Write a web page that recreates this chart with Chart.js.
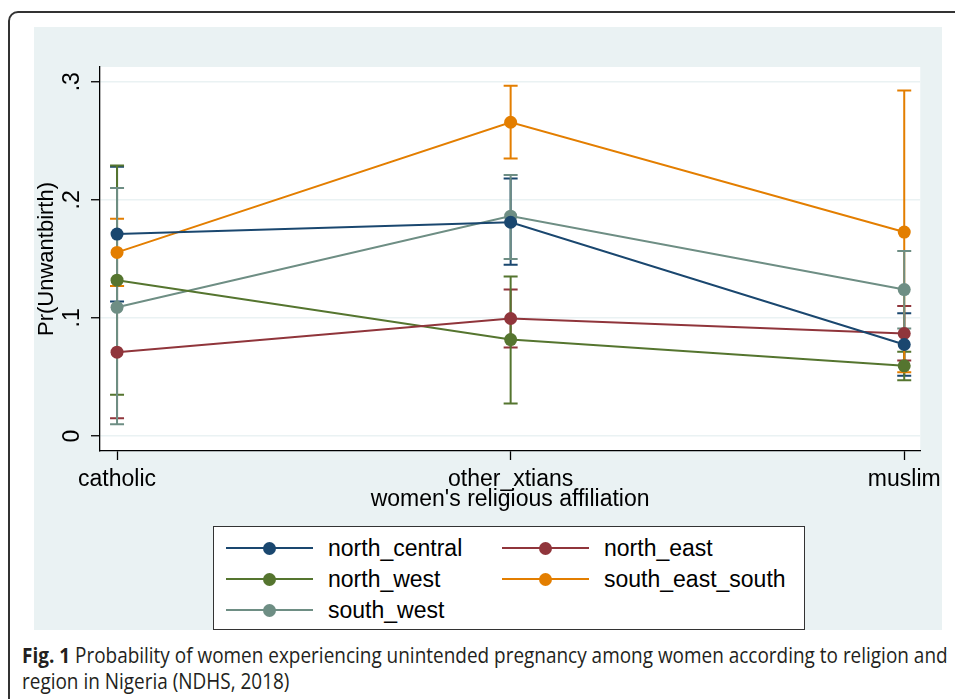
<!DOCTYPE html>
<html>
<head>
<meta charset="utf-8">
<script src="https://cdn.jsdelivr.net/npm/chart.js@4.4.0/dist/chart.umd.min.js"></script>
<style>
body { margin: 0; background: #fff; width: 955px; height: 699px; overflow: hidden; position: relative; font-family: "Liberation Sans", Arial, sans-serif; }
#frame { position: absolute; left: 8px; top: 11px; width: 1000px; height: 800px; border: 2px solid #333; border-radius: 10px; box-sizing: border-box; }
#panel { position: absolute; left: 34px; top: 27px; width: 908px; height: 603px; background: #eaf2f3; }
#chart { position: absolute; left: 34px; top: 27px; }
#legend { position: absolute; left: 213px; top: 526px; width: 592px; height: 104px; box-sizing: border-box; border: 1.5px solid #333; background: #fff; }
.ln { position: absolute; height: 2px; }
.dot { position: absolute; width: 13px; height: 13px; border-radius: 50%; }
.lab { position: absolute; font-size: 23px; line-height: 26px; color: #000; white-space: nowrap; }
#caption { position: absolute; left: 22px; top: 642px; font-family: "Open Sans", sans-serif; font-size: 21px; line-height: 26px; color: #231f20; white-space: nowrap; transform-origin: 0 0; }
</style>
</head>
<body>
<div id="frame"></div>
<div id="panel"></div>
<canvas id="chart" width="913" height="603"></canvas>
<div id="legend"></div>
<div id="caption"><b>Fig. 1</b> Probability of women experiencing unintended pregnancy among women according to religion and<br>region in Nigeria (NDHS, 2018)</div>
<script>
var categories = ["catholic", "other_xtians", "muslim"];
var regions = ["north_central", "north_east", "north_west", "south_east_south", "south_west"];
var colors = ["#1a476f", "#90353b", "#55752f", "#e37e00", "#6e8e84"];

// predicted probabilities with 95% CI, by religion
var northCentral   = [0.171, 0.181, 0.0775];
var northCentralLo = [0.114, 0.145, 0.051];
var northCentralHi = [0.228, 0.218, 0.104];

var northEast   = [0.071, 0.0995, 0.0868];
var northEastLo = [0.015, 0.075, 0.064];
var northEastHi = [0.127, 0.124, 0.110];

var northWest   = [0.132, 0.0817, 0.0594];
var northWestLo = [0.035, 0.0276, 0.0473];
var northWestHi = [0.229, 0.135, 0.0713];

var southEastSouth   = [0.1555, 0.2657, 0.1727];
var southEastSouthLo = [0.127, 0.235, 0.054];
var southEastSouthHi = [0.184, 0.2967, 0.2925];

var southWest   = [0.109, 0.1862, 0.124];
var southWestLo = [0.010, 0.150, 0.091];
var southWestHi = [0.210, 0.221, 0.1566];

var yTicks = [0, 0.1, 0.2, 0.3];
var yTickLabels = ["0", ".1", ".2", ".3"];

var values = [northCentral, northEast, northWest, southEastSouth, southWest];
var lows = [northCentralLo, northEastLo, northWestLo, southEastSouthLo, southWestLo];
var highs = [northCentralHi, northEastHi, northWestHi, southEastSouthHi, southWestHi];

var datasets = regions.map(function (r, d) {
    return {
        label: r,
        data: values[d].map(function (v, i) { return { x: i + 1, y: v }; }),
        lo: lows[d],
        hi: highs[d],
        borderColor: colors[d],
        backgroundColor: colors[d],
        borderWidth: 2,
        pointRadius: 6.5,
        pointBorderWidth: 0,
        pointHoverRadius: 6.5,
        tension: 0
    };
});

var plotBackground = {
    id: 'plotBackground',
    beforeDraw: function (chart) {
        var a = chart.chartArea, ctx = chart.ctx;
        ctx.save();
        ctx.fillStyle = '#fff';
        ctx.fillRect(a.left, a.top, a.right - a.left, a.bottom - a.top);
        ctx.restore();
    }
};

var errorBars = {
    id: 'errorBars',
    beforeDatasetsDraw: function (chart) {
        var ctx = chart.ctx, xs = chart.scales.x, ys = chart.scales.y;
        chart.data.datasets.forEach(function (ds) {
            ctx.save();
            ctx.strokeStyle = ds.borderColor;
            ctx.lineWidth = 2;
            ds.lo.forEach(function (lo, i) {
                var x = xs.getPixelForValue(i + 1);
                var y1 = ys.getPixelForValue(lo), y2 = ys.getPixelForValue(ds.hi[i]);
                ctx.beginPath();
                ctx.moveTo(x, y1); ctx.lineTo(x, y2);
                ctx.moveTo(x - 7, y1); ctx.lineTo(x + 7, y1);
                ctx.moveTo(x - 7, y2); ctx.lineTo(x + 7, y2);
                ctx.stroke();
            });
            ctx.restore();
        });
    }
};

// y tick labels are rotated like the Stata original
var yLabels = {
    id: 'yLabels',
    afterDraw: function (chart) {
        var ctx = chart.ctx, ys = chart.scales.y;
        ctx.save();
        ctx.fillStyle = '#000';
        ctx.font = '23px "Liberation Sans", Arial, sans-serif';
        ctx.textAlign = 'center';
        ctx.textBaseline = 'middle';
        yTicks.forEach(function (v, i) {
            ctx.save();
            ctx.translate(39, ys.getPixelForValue(v));
            ctx.rotate(-Math.PI / 2);
            ctx.fillText(yTickLabels[i], 0, 0);
            ctx.restore();
        });
        ctx.restore();
    }
};

Chart.defaults.font.family = '"Liberation Sans", Arial, sans-serif';

new Chart(document.getElementById('chart').getContext('2d'), {
    type: 'line',
    data: { datasets: datasets },
    plugins: [plotBackground, errorBars, yLabels],
    options: {
        responsive: false,
        animation: false,
        layout: { padding: { left: 0, top: 40, right: 18, bottom: 117 } },
        plugins: { legend: { display: false }, tooltip: { enabled: false } },
        scales: {
            x: {
                type: 'linear',
                min: 0.9567,
                max: 3.0407,
                afterBuildTicks: function (s) { s.ticks = [1, 2, 3].map(function (v) { return { value: v }; }); },
                afterFit: function (s) { s.height = 62; },
                ticks: {
                    callback: function (v) { return categories[v - 1]; },
                    color: '#000', font: { size: 23 }, padding: 6, maxRotation: 0, autoSkip: false
                },
                grid: { drawOnChartArea: false, tickLength: 9, tickColor: '#000', tickWidth: 1.3 },
                border: { color: '#000', width: 1.3 },
                title: { display: true, text: "women's religious affiliation", color: '#000', font: { size: 23 }, padding: 0 }
            },
            y: {
                type: 'linear',
                min: -0.0127,
                max: 0.3125,
                afterBuildTicks: function (s) { s.ticks = yTicks.map(function (v) { return { value: v }; }); },
                afterFit: function (s) { s.width = 66; },
                ticks: { display: false },
                grid: { color: '#eaf2f3', lineWidth: 1.5, tickLength: 9, tickColor: '#000', tickWidth: 1.3 },
                border: { color: '#000', width: 1.3 },
                title: { display: true, text: 'Pr(Unwantbirth)', color: '#000', font: { size: 22 }, padding: 0 }
            }
        }
    }
});

// legend, two columns like the original
var legend = document.getElementById('legend');
var rowsY = [21, 52, 83];
var colX = [12, 288];
regions.forEach(function (r, d) {
    var cx = colX[d % 2], cy = rowsY[Math.floor(d / 2)];
    var html = '<div class="ln" style="left:' + cx + 'px;top:' + (cy - 1) + 'px;width:87px;background:' + colors[d] + '"></div>' +
        '<div class="dot" style="left:' + (cx + 37) + 'px;top:' + (cy - 6.5) + 'px;background:' + colors[d] + '"></div>' +
        '<div class="lab" style="left:' + (cx + 102) + 'px;top:' + (cy - 13) + 'px">' + r + '</div>';
    legend.insertAdjacentHTML('beforeend', html);
});

// squeeze caption to the original's condensed width
var cap = document.getElementById('caption');
cap.style.transform = 'scaleX(' + (926 / cap.scrollWidth) + ')';
</script>
</body>
</html>
